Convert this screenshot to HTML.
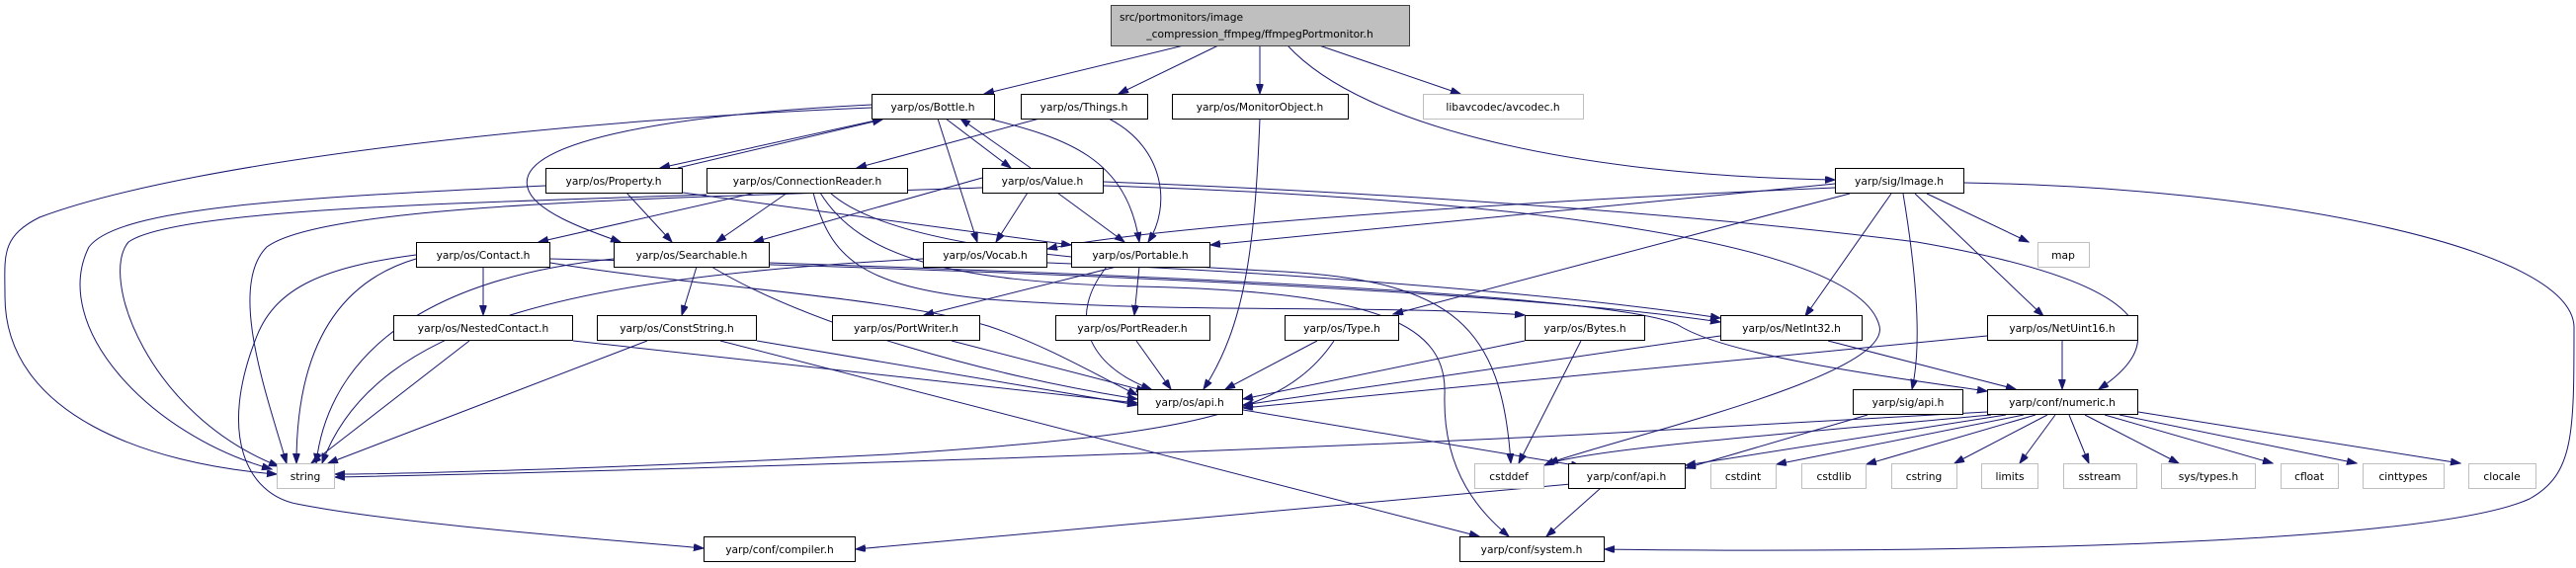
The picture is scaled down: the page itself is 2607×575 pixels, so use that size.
<!DOCTYPE html>
<html><head><meta charset="utf-8"><style>
html,body{margin:0;padding:0;background:#fff;}
svg{display:block;}
text{font-family:"DejaVu Sans","Liberation Sans",sans-serif;font-size:10.67px;fill:#000;}
.e{fill:none;stroke:#191970;stroke-width:1;}
.n{fill:#fff;stroke:#000;stroke-width:1;}
.g{fill:#fff;stroke:#bfbfbf;stroke-width:1;}
</style></head><body>
<svg width="2607" height="575" viewBox="0 0 2607 575" xmlns="http://www.w3.org/2000/svg">
<defs><marker id="a" markerUnits="userSpaceOnUse" markerWidth="11" markerHeight="8" refX="10" refY="3.5" orient="auto"><path d="M0,0 L10,3.5 L0,7 z" fill="#191970" stroke="#191970"/></marker></defs>
<g class="e" marker-end="url(#a)">
<!-- main -->
<path d="M1198,46 L996,95"/>
<path d="M1233,46 L1132,95"/>
<path d="M1275,46 L1275,95"/>
<path d="M1335,46 L1478,95"/>
<path d="M1303,46 C1380,130 1600,178 1857,182"/>
<!-- Bottle -->
<path d="M882,109 C600,120 200,160 40,220 C0,240 5,260 5,300 C5,420 150,470 280,480"/>
<path d="M895,120 L668,170"/>
<path d="M957,120 L1023,170"/>
<path d="M882,106 C700,115 520,140 534,190 C540,215 600,235 628,245"/>
<path d="M949,120 L989,245"/>
<path d="M1000,120 C1080,140 1140,160 1153,245"/>
<!-- back edges -->
<path d="M686,170 L893,121"/>
<path d="M1043,170 L972,120"/>
<!-- Things -->
<path d="M1052,120 L867,170"/>
<path d="M1122,120 C1180,150 1185,210 1162,245"/>
<!-- MonitorObject -->
<path d="M1275,120 C1270,250 1260,330 1218,394"/>
<!-- Property -->
<path d="M634,195 L680,245"/>
<path d="M691,195 L1084,248"/>
<path d="M552,188 C300,200 120,210 90,250 C50,330 150,440 275,475"/>
<!-- ConnectionReader -->
<path d="M765,195 L545,245"/>
<path d="M797,195 L725,245"/>
<path d="M823,195 C840,260 870,290 1000,303 C1200,318 1400,308 1543,319"/>
<path d="M840,195 C900,250 1100,265 1300,275 C1470,285 1520,330 1529,469"/>
<path d="M830,195 C870,260 960,285 1150,290 C1400,295 1465,330 1462,400 C1460,480 1500,520 1527,543"/>
<path d="M715,197 C500,205 180,210 130,245 C100,280 150,420 282,472"/>
<!-- Value -->
<path d="M994,180 L763,245"/>
<path d="M1040,195 L1008,245"/>
<path d="M1070,195 L1138,245"/>
<path d="M994,190 C700,200 330,205 270,250 C230,290 270,400 290,469"/>
<path d="M1117,184 C1400,195 1700,215 1940,245 C2200,290 2190,350 2124,394"/>
<path d="M1117,188 C1500,200 1880,240 1902,330 C1915,380 1650,440 1567,469"/>
<!-- Image -->
<path d="M1857,186 L1225,248"/>
<path d="M1857,190 C1500,205 1150,232 1060,252"/>
<path d="M1872,196 L1410,318"/>
<path d="M1914,196 L1827,320"/>
<path d="M1926,196 C1940,280 1945,350 1935,394"/>
<path d="M1938,196 L2068,320"/>
<path d="M1950,196 L2053,245"/>
<path d="M1988,185 C2300,190 2600,250 2605,330 C2605,440 2605,480 2560,505 C2450,555 1900,560 1624,556"/>
<!-- Contact -->
<path d="M489,270 L489,319"/>
<path d="M421,258 C330,270 280,290 260,340 C220,440 250,500 300,510 C400,530 600,545 712,555"/>
<path d="M421,262 C360,280 300,330 300,469"/>
<path d="M557,266 C700,290 900,300 1000,330 C1060,350 1110,380 1151,400"/>
<path d="M557,262 C900,270 1500,290 1741,326"/>
<!-- Searchable -->
<path d="M705,270 L690,319"/>
<path d="M720,270 C820,330 1000,380 1151,404"/>
<path d="M621,262 C400,285 330,380 320,469"/>
<path d="M779,266 C1200,280 1650,300 1700,330 C1750,360 1900,380 2011,396"/>
<!-- Vocab -->
<path d="M934,262 C600,280 380,320 326,469"/>
<path d="M1060,266 C1300,275 1600,300 1741,322"/>
<!-- Portable -->
<path d="M1130,270 L935,319"/>
<path d="M1153,270 L1148,319"/>
<path d="M1120,270 C1080,320 1100,370 1165,394"/>
<!-- row 3 -->
<path d="M475,345 L315,469"/>
<path d="M580,345 L1151,408"/>
<path d="M655,345 L332,469"/>
<path d="M766,345 L1151,410"/>
<path d="M729,345 L1497,543"/>
<path d="M963,345 L1160,396"/>
<path d="M1150,345 L1185,394"/>
<path d="M1333,345 L1240,394"/>
<path d="M1350,345 C1300,420 1200,440 900,460 C600,475 400,480 339,480"/>
<path d="M1543,345 L1258,404"/>
<path d="M1600,345 L1537,469"/>
<path d="M1741,340 L1258,410"/>
<path d="M1850,345 L2040,394"/>
<path d="M2011,340 L1258,413"/>
<path d="M2087,345 L2087,394"/>
<!-- apis -->
<path d="M1258,415 L1600,472"/>
<path d="M1890,420 L1706,474"/>
<path d="M1590,490 L866,556"/>
<path d="M1620,494 L1565,543"/>
<!-- numeric -->
<path d="M2011,417 L1600,440 C1200,460 600,478 339,483"/>
<path d="M2015,420 C1800,440 1600,455 1563,471"/>
<path d="M2030,420 L1706,471"/>
<path d="M2048,420 L1798,470"/>
<path d="M2060,420 L1889,470"/>
<path d="M2072,420 L1978,469"/>
<path d="M2080,420 L2044,469"/>
<path d="M2094,420 L2114,469"/>
<path d="M2110,420 L2205,469"/>
<path d="M2130,420 L2300,469"/>
<path d="M2145,420 L2385,469"/>
<path d="M2164,417 L2490,469"/>
</g>
<!-- nodes -->
<rect x="1124.5" y="5.5" width="302" height="41" fill="#bfbfbf" stroke="#404040"/>
<text x="1133" y="21">src/portmonitors/image</text>
<text x="1275" y="38" text-anchor="middle">_compression_ffmpeg/ffmpegPortmonitor.h</text>
<g text-anchor="middle">
<rect class="n" x="882.5" y="95.5" width="124" height="25"/><text x="944" y="112">yarp/os/Bottle.h</text>
<rect class="n" x="1033.5" y="95.5" width="128" height="25"/><text x="1097" y="112">yarp/os/Things.h</text>
<rect class="n" x="1186.5" y="95.5" width="178" height="25"/><text x="1275" y="112">yarp/os/MonitorObject.h</text>
<rect class="g" x="1440.5" y="95.5" width="162" height="25"/><text x="1521" y="112">libavcodec/avcodec.h</text>
<rect class="n" x="552.5" y="170.5" width="138" height="25"/><text x="621" y="187">yarp/os/Property.h</text>
<rect class="n" x="715.5" y="170.5" width="203" height="25"/><text x="817" y="187">yarp/os/ConnectionReader.h</text>
<rect class="n" x="994.5" y="170.5" width="122" height="25"/><text x="1055" y="187">yarp/os/Value.h</text>
<rect class="n" x="1857.5" y="170.5" width="130" height="25"/><text x="1922" y="187">yarp/sig/Image.h</text>
<rect class="n" x="421.5" y="245.5" width="135" height="25"/><text x="489" y="262">yarp/os/Contact.h</text>
<rect class="n" x="621.5" y="245.5" width="157" height="25"/><text x="700" y="262">yarp/os/Searchable.h</text>
<rect class="n" x="934.5" y="245.5" width="125" height="25"/><text x="997" y="262">yarp/os/Vocab.h</text>
<rect class="n" x="1084.5" y="245.5" width="140" height="25"/><text x="1154" y="262">yarp/os/Portable.h</text>
<rect class="g" x="2062.5" y="245.5" width="52" height="25"/><text x="2088" y="262">map</text>
<rect class="n" x="398.5" y="319.5" width="181" height="25"/><text x="489" y="336">yarp/os/NestedContact.h</text>
<rect class="n" x="604.5" y="319.5" width="161" height="25"/><text x="685" y="336">yarp/os/ConstString.h</text>
<rect class="n" x="842.5" y="319.5" width="149" height="25"/><text x="917" y="336">yarp/os/PortWriter.h</text>
<rect class="n" x="1068.5" y="319.5" width="156" height="25"/><text x="1146" y="336">yarp/os/PortReader.h</text>
<rect class="n" x="1300.5" y="319.5" width="115" height="25"/><text x="1358" y="336">yarp/os/Type.h</text>
<rect class="n" x="1543.5" y="319.5" width="121" height="25"/><text x="1604" y="336">yarp/os/Bytes.h</text>
<rect class="n" x="1741.5" y="319.5" width="143" height="25"/><text x="1813" y="336">yarp/os/NetInt32.h</text>
<rect class="n" x="2011.5" y="319.5" width="152" height="25"/><text x="2087" y="336">yarp/os/NetUint16.h</text>
<rect class="n" x="1151.5" y="394.5" width="106" height="25"/><text x="1204" y="411">yarp/os/api.h</text>
<rect class="n" x="1875.5" y="394.5" width="111" height="25"/><text x="1931" y="411">yarp/sig/api.h</text>
<rect class="n" x="2011.5" y="394.5" width="152" height="25"/><text x="2087" y="411">yarp/conf/numeric.h</text>
<rect class="g" x="280.5" y="469.5" width="58" height="25"/><text x="309" y="486">string</text>
<rect class="g" x="1492.5" y="469.5" width="70" height="25"/><text x="1527" y="486">cstddef</text>
<rect class="n" x="1587.5" y="469.5" width="118" height="25"/><text x="1646" y="486">yarp/conf/api.h</text>
<rect class="g" x="1731.5" y="469.5" width="66" height="25"/><text x="1764" y="486">cstdint</text>
<rect class="g" x="1823.5" y="469.5" width="65" height="25"/><text x="1856" y="486">cstdlib</text>
<rect class="g" x="1914.5" y="469.5" width="66" height="25"/><text x="1947" y="486">cstring</text>
<rect class="g" x="2005.5" y="469.5" width="57" height="25"/><text x="2034" y="486">limits</text>
<rect class="g" x="2088.5" y="469.5" width="74" height="25"/><text x="2125" y="486">sstream</text>
<rect class="g" x="2187.5" y="469.5" width="95" height="25"/><text x="2235" y="486">sys/types.h</text>
<rect class="g" x="2308.5" y="469.5" width="58" height="25"/><text x="2337" y="486">cfloat</text>
<rect class="g" x="2391.5" y="469.5" width="82" height="25"/><text x="2432" y="486">cinttypes</text>
<rect class="g" x="2498.5" y="469.5" width="68" height="25"/><text x="2532" y="486">clocale</text>
<rect class="n" x="712.5" y="543.5" width="153" height="25"/><text x="789" y="560">yarp/conf/compiler.h</text>
<rect class="n" x="1477.5" y="543.5" width="146" height="25"/><text x="1550" y="560">yarp/conf/system.h</text>
</g>
</svg>
</body></html>
